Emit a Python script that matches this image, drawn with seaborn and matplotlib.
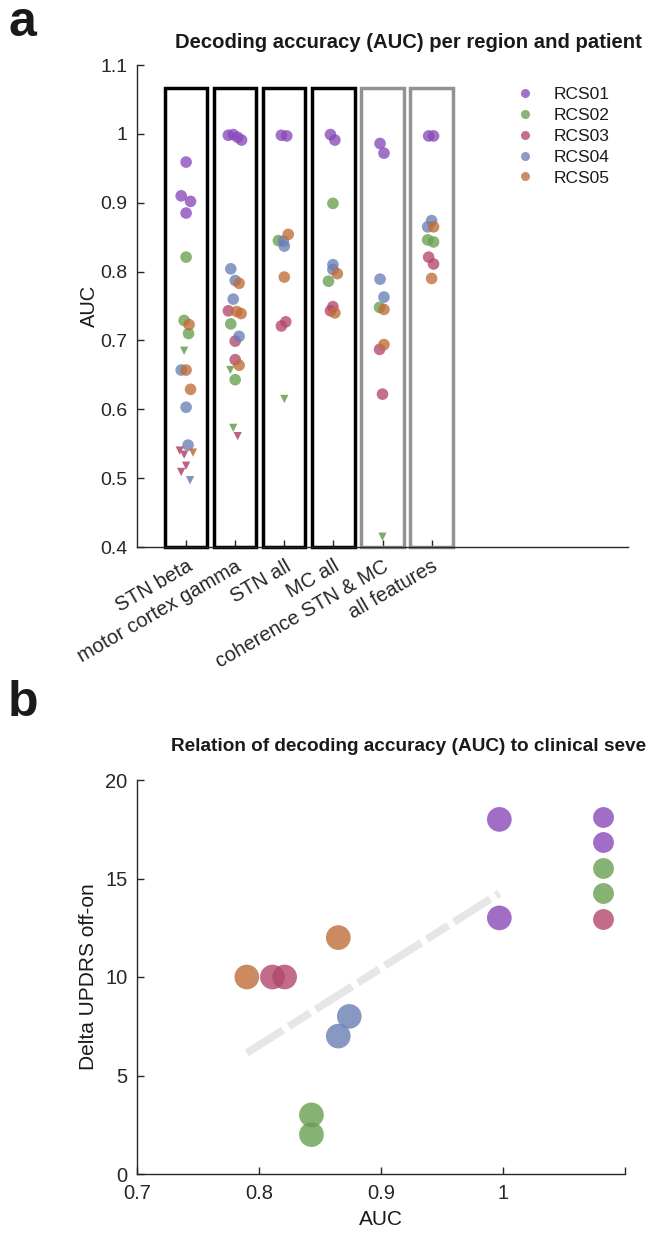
import numpy as np
import pandas as pd
import matplotlib
matplotlib.use("Agg")
import matplotlib.pyplot as plt
from matplotlib.patches import Rectangle
from matplotlib.lines import Line2D
import seaborn as sns

# ---------------------------------------------------------------- data
regions = ["STN beta", "motor cortex gamma", "STN all", "MC all",
           "coherence STN & MC", "all features"]
patients = ["RCS01", "RCS02", "RCS03", "RCS04", "RCS05"]

# decoder results, one entry per decoder
point_region = [0] * 20 + [1] * 20 + [2] * 10 + [3] * 10 + [4] * 10 + [5] * 10
point_patient = (
    ["RCS01"] * 4 + ["RCS02"] * 4 + ["RCS03"] * 4 + ["RCS04"] * 4 + ["RCS05"] * 4
    + ["RCS01"] * 4 + ["RCS02"] * 4 + ["RCS03"] * 4 + ["RCS04"] * 4 + ["RCS05"] * 4
    + (["RCS01"] * 2 + ["RCS02"] * 2 + ["RCS03"] * 2 + ["RCS04"] * 2 + ["RCS05"] * 2) * 4
)
point_auc = [
    # STN beta
    0.959, 0.910, 0.902, 0.885, 0.821, 0.729, 0.710, 0.685, 0.540, 0.534,
    0.518, 0.509, 0.657, 0.603, 0.548, 0.497, 0.723, 0.657, 0.629, 0.537,
    # motor cortex gamma
    0.998, 0.999, 0.995, 0.991, 0.724, 0.657, 0.643, 0.573, 0.743, 0.699,
    0.672, 0.561, 0.804, 0.787, 0.760, 0.706, 0.783, 0.742, 0.739, 0.664,
    # STN all
    0.998, 0.997, 0.845, 0.615, 0.727, 0.721, 0.844, 0.837, 0.854, 0.792,
    # MC all
    0.999, 0.991, 0.899, 0.786, 0.749, 0.743, 0.810, 0.803, 0.797, 0.740,
    # coherence STN & MC
    0.986, 0.972, 0.748, 0.415, 0.687, 0.622, 0.789, 0.763, 0.745, 0.694,
    # all features
    0.997, 0.997, 0.843, 0.846, 0.821, 0.811, 0.874, 0.865, 0.865, 0.790,
]
point_significant = [
    1, 1, 1, 1, 1, 1, 1, 0, 0, 0, 0, 0, 1, 1, 1, 0, 1, 1, 1, 0,
    1, 1, 1, 1, 1, 0, 1, 0, 1, 1, 1, 0, 1, 1, 1, 1, 1, 1, 1, 1,
    1, 1, 1, 0, 1, 1, 1, 1, 1, 1,
    1, 1, 1, 1, 1, 1, 1, 1, 1, 1,
    1, 1, 1, 0, 1, 1, 1, 1, 1, 1,
    1, 1, 1, 1, 1, 1, 1, 1, 1, 1,
]
point_jitter = [
    0.00, -0.10, 0.09, 0.00, 0.00, -0.04, 0.05, -0.04, -0.13, -0.04,
    0.00, -0.10, -0.10, 0.00, 0.04, 0.08, 0.06, 0.00, 0.09, 0.14,
    -0.14, -0.04, 0.05, 0.13, -0.09, -0.10, 0.00, -0.04, -0.14, 0.00,
    0.00, 0.05, -0.09, 0.00, -0.04, 0.08, 0.08, 0.03, 0.12, 0.08,
    -0.06, 0.05, -0.12, 0.00, 0.03, -0.06, -0.02, 0.00, 0.08, 0.00,
    -0.06, 0.03, -0.01, -0.10, -0.01, -0.06, -0.01, -0.01, 0.08, 0.03,
    -0.05, 0.03, -0.06, 0.00, -0.06, 0.00, -0.05, 0.03, 0.03, 0.03,
    -0.06, 0.04, 0.04, -0.08, -0.06, 0.04, 0.00, -0.08, 0.04, 0.00,
]

# clinical relation: all-features AUC vs UPDRS improvement
b_patient = ["RCS01", "RCS01", "RCS02", "RCS02", "RCS03",
             "RCS03", "RCS04", "RCS04", "RCS05", "RCS05"]
b_auc = [0.997, 0.997, 0.843, 0.843, 0.811, 0.821, 0.874, 0.865, 0.865, 0.790]
b_updrs = [18, 13, 3, 2, 10, 10, 8, 7, 12, 10]

a_yticks = [0.4, 0.5, 0.6, 0.7, 0.8, 0.9, 1.0, 1.1]
a_yticklabels = ["0.4", "0.5", "0.6", "0.7", "0.8", "0.9", "1", "1.1"]
b_xticks = [0.7, 0.8, 0.9, 1.0, 1.1]
b_xticklabels = ["0.7", "0.8", "0.9", "1", ""]
b_yticks = [0, 5, 10, 15, 20]

# ---------------------------------------------------------------- style
sns.set_style("white")
plt.rcParams["font.family"] = ["Liberation Sans", "DejaVu Sans"]
plt.rcParams.update({
    "xtick.direction": "in", "ytick.direction": "in",
    "xtick.major.size": 5, "ytick.major.size": 5,
    "xtick.major.width": 1.0, "ytick.major.width": 1.0,
    "xtick.major.pad": 7, "ytick.major.pad": 7,
    "xtick.bottom": True, "ytick.left": True,
    "axes.edgecolor": "#262626", "axes.linewidth": 1.0,
    "xtick.color": "#262626", "ytick.color": "#262626",
    "text.color": "#1a1a1a", "axes.labelcolor": "#1a1a1a",
})
palette = dict(zip(patients, ["#884ABA", "#689F50", "#B3476D", "#6980B5", "#BE6D38"]))
box_colors = ["black", "black", "black", "black", "#929290", "#929290"]

W, H = 651, 1235
fig = plt.figure(figsize=(W / 100, H / 100), dpi=100)

# ---------------------------------------------------------------- panel a
ax_a = fig.add_axes([137 / W, 1 - 547 / H, 491 / W, 482 / H])
df = pd.DataFrame({
    "x": np.array(point_region) + 1 + np.array(point_jitter),
    "auc": point_auc,
    "patient": point_patient,
    "sig": np.array(point_significant, dtype=bool),
})

for i, col in enumerate(box_colors):
    ax_a.add_patch(Rectangle((i + 1 - 0.43, 0.4), 0.86, 0.667, fill=False,
                             edgecolor=col, linewidth=2.5, zorder=1,
                             joinstyle="miter", clip_on=False))

sns.scatterplot(data=df[df.sig], x="x", y="auc", hue="patient",
                hue_order=patients, palette=palette, s=70, alpha=0.78,
                linewidth=0, marker="o", legend=False, ax=ax_a, zorder=3)
sns.scatterplot(data=df[~df.sig], x="x", y="auc", hue="patient",
                hue_order=patients, palette=palette, s=36, alpha=0.85,
                linewidth=0, marker="v", legend=False, ax=ax_a, zorder=3)

ax_a.set_xlim(0, 10)
ax_a.set_ylim(0.4, 1.1)
ax_a.set_xticks(range(1, len(regions) + 1))
ax_a.set_xticklabels(regions, rotation=30, ha="right", va="top",
                     rotation_mode="anchor", fontsize=14.5)
ax_a.set_yticks(a_yticks)
ax_a.set_yticklabels(a_yticklabels, fontsize=14)
ax_a.set_xlabel("")
ax_a.set_ylabel("AUC", fontsize=14.5, labelpad=1)
sns.despine(ax=ax_a)

handles = [Line2D([], [], linestyle="", marker="o", markersize=6.5,
                  markerfacecolor=palette[p], markeredgewidth=0, alpha=0.78)
           for p in patients]
ax_a.legend(handles, patients, loc="upper left", bbox_to_anchor=(0.738, 0.987),
            frameon=False, fontsize=12.5, handletextpad=1.0,
            labelspacing=0.33, handlelength=1.2)

fig.text(175 / W, 1 - 48 / H, "Decoding accuracy (AUC) per region and patient",
         fontsize=14.6, fontweight="bold", ha="left", va="baseline")
fig.text(8 / W, 1 - 36 / H, "a", fontsize=36, fontweight="bold",
         ha="left", va="baseline")

# ---------------------------------------------------------------- panel b
ax_b = fig.add_axes([137 / W, 1 - 1174 / H, 488 / W, 394 / H])
dfb = pd.DataFrame({"auc": b_auc, "updrs": b_updrs, "patient": b_patient})

sns.regplot(data=dfb, x="auc", y="updrs", scatter=False, ci=None,
            truncate=True, ax=ax_b,
            line_kws=dict(color="#e6e6e6", linewidth=5.5,
                          dashes=(5.6, 0.9, 3.3, 0.9), solid_capstyle="butt",
                          dash_capstyle="butt", zorder=1))
sns.scatterplot(data=dfb, x="auc", y="updrs", hue="patient",
                hue_order=patients, palette=palette, s=316, alpha=0.8,
                linewidth=0, legend=False, ax=ax_b, zorder=3)

ax_b.set_xlim(0.7, 1.1)
ax_b.set_ylim(0, 20)
ax_b.set_xticks(b_xticks)
ax_b.set_xticklabels(b_xticklabels, fontsize=14.5)
ax_b.set_yticks(b_yticks)
ax_b.set_yticklabels([str(v) for v in b_yticks], fontsize=14.5)
ax_b.set_xlabel("AUC", fontsize=15, labelpad=5)
ax_b.set_ylabel("Delta UPDRS off-on", fontsize=15, labelpad=5)
sns.despine(ax=ax_b)

# legend keys of the first five plotted decoders (labels run off the page)
first_five = [palette[p] for p in b_patient[:5]]
b_handles = [Line2D([], [], linestyle="", marker="o", markersize=15,
                    markerfacecolor=c, markeredgewidth=0, alpha=0.8)
             for c in first_five]
ax_b.legend(b_handles, [""] * 5, loc="upper left", bbox_to_anchor=(0.893, 0.965),
            frameon=False, handletextpad=0.4, labelspacing=0.47,
            handlelength=1.5, fontsize=13)

fig.text(171 / W, 1 - 751 / H, "Relation of decoding accuracy (AUC) to clinical seve",
         fontsize=13.7, fontweight="bold", ha="left", va="baseline")
fig.text(8 / W, 1 - 716 / H, "b", fontsize=36, fontweight="bold",
         ha="left", va="baseline")

fig.savefig("out.png", dpi=100)
